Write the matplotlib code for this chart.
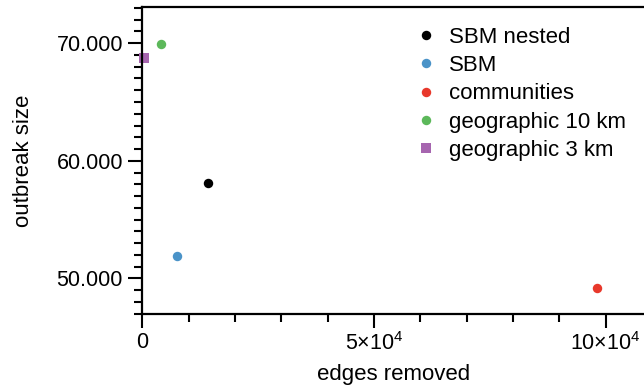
import matplotlib
matplotlib.use("Agg")
import matplotlib.pyplot as plt
from matplotlib.ticker import MultipleLocator, FixedLocator, FuncFormatter

# Data
labels = ["SBM nested", "SBM", "communities", "geographic 10 km", "geographic 3 km"]
edges_removed = [14240, 7490, 98060, 4035, 370]
outbreak_size = [58100, 51930, 49175, 69950, 68750]
colors = ["#000000", "#4A93C8", "#E8382B", "#5CB85A", "#A665AF"]
markers = ["o", "o", "o", "o", "s"]

x_ticks = [0, 50000, 100000]
x_tick_labels = ["0", r"$\mathregular{5{\times}10^4}$", r"$\mathregular{10{\times}10^4}$"]

plt.rcParams.update({
    "font.family": ["Liberation Sans", "DejaVu Sans"],
    "mathtext.fontset": "custom",
    "mathtext.rm": "Liberation Sans",
    "font.size": 15,
})

fig = plt.figure(figsize=(6.44, 3.92), dpi=100)
ax = fig.add_axes([0.221, 0.1997, 0.779, 0.7817])

for x, y, c, m, lab in zip(edges_removed, outbreak_size, colors, markers, labels):
    ms = 7.6 if m == "s" else 6.8
    ax.plot([x], [y], linestyle="none", marker=m, color=c, markersize=ms,
            markeredgewidth=0, label=lab, clip_on=False)

ax.set_xlim(0, 108300)
ax.set_ylim(47000, 73050)

ax.xaxis.set_major_locator(FixedLocator(x_ticks))
ax.set_xticklabels(x_tick_labels)
ax.xaxis.set_minor_locator(MultipleLocator(10000))
ax.yaxis.set_major_locator(MultipleLocator(10000))
ax.yaxis.set_minor_locator(MultipleLocator(1000))
ax.yaxis.set_major_formatter(FuncFormatter(lambda v, p: f"{v:,.0f}".replace(",", ".")))

ax.tick_params(which="major", length=10, width=1.5, labelsize=15.5)
ax.tick_params(axis="x", which="major", pad=3)
ax.tick_params(axis="y", which="major", pad=4)
ax.tick_params(which="minor", length=5.5, width=1.5)
for s in ["left", "bottom", "top"]:
    ax.spines[s].set_linewidth(1.6)
ax.spines["right"].set_visible(False)

ax.set_xlabel("edges removed", fontsize=16, labelpad=7)
ax.set_ylabel("outbreak size", fontsize=16, labelpad=16)

ax.legend(loc="upper left", bbox_to_anchor=(0.644, 0.932), bbox_transform=fig.transFigure,
          frameon=False, fontsize=16, handletextpad=0.55, labelspacing=0.33,
          handlelength=1.0, borderpad=0, borderaxespad=0)

fig.savefig("out.png", dpi=100)
